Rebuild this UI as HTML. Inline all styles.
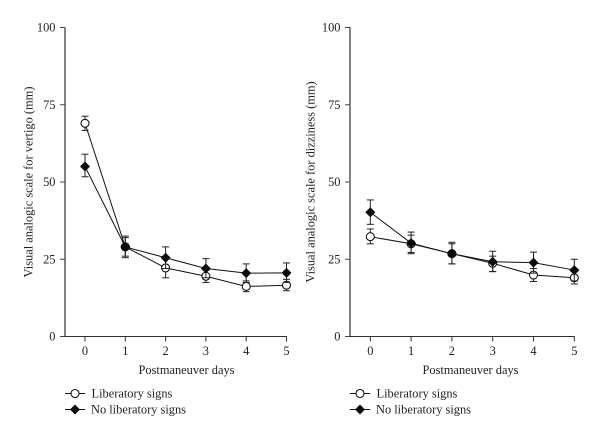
<!DOCTYPE html>
<html lang="en">
<head>
<meta charset="utf-8">
<title>Visual analogic scale charts</title>
<style>
html,body{margin:0;padding:0;background:#fff}
svg{display:block}
text{font-family:"Liberation Serif",serif;fill:#222;font-size:12.4px}
</style>
</head>
<body>
<svg id="figure" width="600" height="437" viewBox="0 0 600 437" xmlns="http://www.w3.org/2000/svg"></svg>
<script>
const days = [0, 1, 2, 3, 4, 5];
const yTicks = [0, 25, 50, 75, 100];
const seriesNames = ["Liberatory signs", "No liberatory signs"];

const vertigoLiberatory = [69, 29, 22.2, 19.5, 16.2, 16.6];
const vertigoLiberatoryLow = [66.7, 26, 19, 17.5, 14.5, 14.8];
const vertigoLiberatoryHigh = [71.3, 32, 25.4, 21.5, 18, 18.5];
const vertigoNone = [55, 29, 25.5, 22, 20.5, 20.6];
const vertigoNoneLow = [51.7, 25.5, 22, 19, 17.5, 17.5];
const vertigoNoneHigh = [59, 32.5, 29, 25.2, 23.5, 23.8];

const dizzinessLiberatory = [32.3, 30, 26.8, 23.7, 19.9, 19];
const dizzinessLiberatoryLow = [30, 27.2, 23.5, 21, 17.8, 17];
const dizzinessLiberatoryHigh = [34.8, 32.8, 30, 26, 22, 21];
const dizzinessNone = [40.2, 30.2, 26.8, 24.2, 23.9, 21.5];
const dizzinessNoneLow = [36.3, 26.8, 23.5, 21, 20.5, 18];
const dizzinessNoneHigh = [44.2, 33.8, 30.5, 27.6, 27.3, 25];

const NS = "http://www.w3.org/2000/svg";
const root = document.getElementById("figure");

function make(parent, tag, attrs, text) {
  const el = document.createElementNS(NS, tag);
  for (const k in attrs) el.setAttribute(k, attrs[k]);
  if (text !== undefined) el.textContent = text;
  parent.appendChild(el);
  return el;
}

function seg(parent, x1, y1, x2, y2, color, width) {
  const el = make(parent, "line", {x1: x1, y1: y1, x2: x2, y2: y2, stroke: color, "stroke-width": width});
  
  
  return el;
}

function openMarker(parent, x, y) {
  const el = make(parent, "circle", {cx: x, cy: y, r: 4, fill: "#fff", stroke: "#111", "stroke-width": 1.1});
  
  
}

function diamondMarker(parent, x, y) {
  const r = 5;
  const el = make(parent, "polygon", {
    points: x + "," + (y - r) + " " + (x + r) + "," + y + " " + x + "," + (y + r) + " " + (x - r) + "," + y,
    fill: "#0a0a0a"
  });
  
  
}

function drawSeries(parent, name, xs, ys, values, low, high, marker) {
  const g = make(parent, "g", {});
  
  
  const pts = values.map(function (v, i) { return xs(days[i]) + "," + ys(v); }).join(" ");
  const line = make(g, "polyline", {points: pts, fill: "none", stroke: "#111", "stroke-width": 1});
  
  
  values.forEach(function (v, i) {
    const x = xs(days[i]);
    seg(g, x, ys(low[i]), x, ys(high[i]), "#222", 1);
    seg(g, x - 3.5, ys(low[i]), x + 3.5, ys(low[i]), "#222", 1);
    seg(g, x - 3.5, ys(high[i]), x + 3.5, ys(high[i]), "#222", 1);
  });
  values.forEach(function (v, i) { marker(g, xs(days[i]), ys(v)); });
}

function drawPanel(cfg) {
  const g = make(root, "g", {});
  
  
  const xs = function (d) { return cfg.x0 + d * cfg.step; };
  const ys = function (v) { return cfg.y0 - v * 3.09; };
  const xEnd = xs(days[days.length - 1]);

  seg(g, cfg.axisX, ys(100), cfg.axisX, cfg.y0 + 0.6, "#666", 1.6);
  seg(g, cfg.axisX, cfg.y0, xEnd + 0.5, cfg.y0, "#333", 1);

  yTicks.forEach(function (t) {
    seg(g, cfg.axisX - 5, ys(t), cfg.axisX, ys(t), "#444", 1);
    const label = make(g, "text", {x: cfg.axisX - 9.5, y: ys(t) + 4, "text-anchor": "end"}, String(t));
    
    
  });
  days.forEach(function (d) {
    seg(g, xs(d), cfg.y0, xs(d), cfg.y0 + 5, "#333", 1);
    const label = make(g, "text", {x: xs(d), y: cfg.y0 + 18.5, "text-anchor": "middle"}, String(d));
    
    
  });

  const xTitle = make(g, "text", {x: cfg.xTitleX, y: 374, "text-anchor": "middle"}, "Postmaneuver days");
  
  

  const yTitle = make(g, "text", {
    x: 0, y: 0, "text-anchor": "middle",
    transform: "translate(" + cfg.yTitleX + " 182) rotate(-90)"
  }, cfg.yTitle);
  
  

  drawSeries(g, "series-liberatory-signs", xs, ys, cfg.lib, cfg.libLow, cfg.libHigh, openMarker);
  drawSeries(g, "series-no-liberatory-signs", xs, ys, cfg.none, cfg.noneLow, cfg.noneHigh, diamondMarker);

  const legend = make(g, "g", {});
  
  
  const lx = cfg.axisX;
  seg(legend, lx, 393.5, lx + 20, 393.5, "#111", 1);
  openMarker(legend, lx + 10, 393.5);
  const t1 = make(legend, "text", {x: lx + 26.5, y: 397.5}, seriesNames[0]);
  
  
  seg(legend, lx, 409.5, lx + 20, 409.5, "#111", 1);
  diamondMarker(legend, lx + 10, 409.5);
  const t2 = make(legend, "text", {x: lx + 26, y: 413.5}, seriesNames[1]);
  
  
}

drawPanel({
  name: "vertigo-chart", axisX: 65, x0: 85, step: 40.3, y0: 336.5, xTitleX: 186.5, yTitleX: 32.5,
  yTitle: "Visual analogic scale for vertigo (mm)",
  lib: vertigoLiberatory, libLow: vertigoLiberatoryLow, libHigh: vertigoLiberatoryHigh,
  none: vertigoNone, noneLow: vertigoNoneLow, noneHigh: vertigoNoneHigh
});
drawPanel({
  name: "dizziness-chart", axisX: 350, x0: 370.3, step: 40.8, y0: 336.5, xTitleX: 470.5, yTitleX: 314.5,
  yTitle: "Visual analogic scale for dizziness (mm)",
  lib: dizzinessLiberatory, libLow: dizzinessLiberatoryLow, libHigh: dizzinessLiberatoryHigh,
  none: dizzinessNone, noneLow: dizzinessNoneLow, noneHigh: dizzinessNoneHigh
});
</script>
</body>
</html>
